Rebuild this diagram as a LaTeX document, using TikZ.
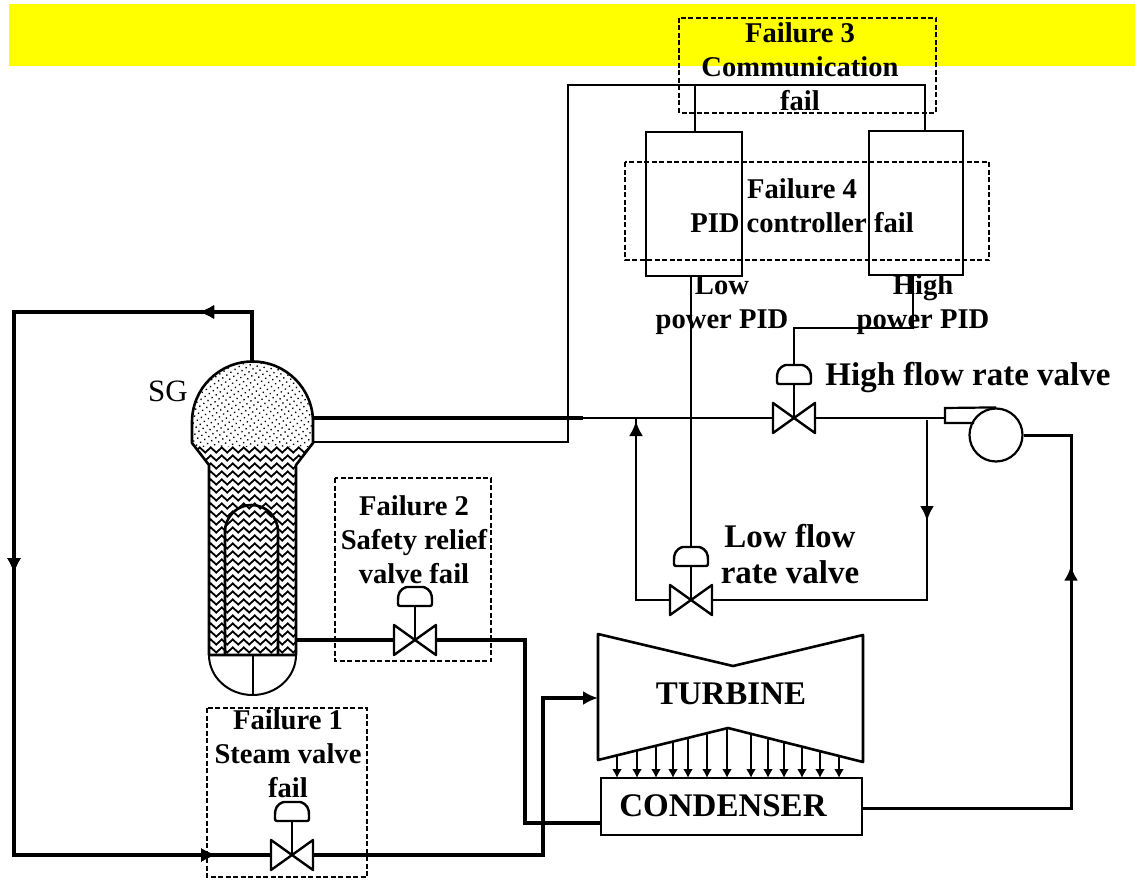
\documentclass[tikz,border=0pt]{standalone}
\usepackage{fontspec}
\setmainfont{Liberation Serif}
\usetikzlibrary{calc,arrows.meta,patterns.meta,decorations.pathmorphing,decorations.markings}
\definecolor{bandyellow}{RGB}{255,255,0}

\tikzset{
    thickpipe/.style={line width=3.4pt},
    thinpipe/.style={line width=1.8pt},
    failbox/.style={draw, dashed, line width=1.5pt, dash pattern=on 5pt off 2.5pt},
    pidbox/.style={draw, line width=2.8pt, minimum width=#1, minimum height=144pt, inner sep=0pt},
    failtext/.style={align=center, inner sep=0pt, font=\fontsize{28.6}{34}\selectfont\bfseries},
    bigtext/.style={align=center, inner sep=0pt, font=\fontsize{33}{36}\selectfont\bfseries},
    flow at/.style={postaction={decorate}, decoration={markings,
        mark=at position #1 with {\arrow{Latex[length=15pt,width=14pt]}}}},
    pics/valve/.style={code={
        \draw[line width=2.4pt, line join=round] (-21,-15) -- (21,15) -- (21,-15) -- (-21,15) -- cycle;
        \draw[line width=2.4pt] (0,0) -- (0,-34);
        \draw[line width=2.4pt, rounded corners=2pt] (-17,-34) -- (17,-34) -- (17,-42)
            .. controls (16,-50) and (10,-53) .. (6,-53) -- (-6,-53)
            .. controls (-10,-53) and (-16,-50) .. (-17,-42) -- cycle;
        \coordinate (-top) at (0,-53);
        \coordinate (-in) at (-21,0);
        \coordinate (-out) at (21,0);
    }}
}

\begin{document}
\begin{tikzpicture}[x=1pt, y=-1pt]
        \useasboundingbox (0,0) rectangle (1135,888);
        \fill[white] (0,0) rectangle (1135,888);
        \fill[bandyellow] (9,4) rectangle (1135,66);

        % steam generator
        \begin{scope}
            \clip (192,422) arc (180:360:60.5) -- (313,443) -- (296,465) -- (296,655)
                -- (209,655) -- (209,465) -- (192,443) -- cycle;
            \fill[pattern={Dots[angle=35, distance=5pt, radius=.95pt]}] (190,360) rectangle (315,450);
            \fill[white] (190,447) rectangle (315,656);
            \foreach \y in {450,458,...,657}
                \draw[line width=1.8pt, decorate, decoration={zigzag, amplitude=2.6pt, segment length=11pt}]
                    (186,\y) -- (320,\y);
        \end{scope}
        \draw[line width=2.6pt, line join=round] (192,422) arc (180:360:60.5) -- (313,443) -- (296,465) -- (296,655)
            -- (209,655) -- (209,465) -- (192,443) -- cycle;
        \draw[line width=2.6pt] (225,655) -- (225,531.5) arc (180:360:26.5) -- (278,655);
        \draw[line width=2pt] (209,655) arc (180:0:43.5 and 40);
        \draw[line width=2pt] (253,655) -- (253,695);
        \coordinate (sgtop) at (252,362);
        \coordinate (sgsteam) at (313,418);
        \coordinate (sgsense) at (313,442);
        \coordinate (sgdrain) at (296,640);
        \node [font=\fontsize{31}{34}\selectfont, inner sep=0pt] (sglabel) at (168,391) {SG};

        % valves
        \pic (hv) at (794,418) {valve};
        \pic (lv) at (691,600) {valve};
        \pic (rv) at (415,640) {valve};
        \pic (sv) at (292,855) {valve};

        % controllers
        \node [pidbox=96pt] (lowpid) at (694,204) {};
        \node [pidbox=94pt] (highpid) at (916,203) {};

        % pump
        \node [draw, circle, line width=2.2pt, minimum size=53pt, inner sep=0pt] (pump) at (996,435) {};
        \draw[line width=2.2pt] (pump.north) -- (945,408) -- (945,423) -- (974,423);
        \coordinate (pumpin) at (945,418);

        % turbine and condenser
        \draw[line width=2.6pt, line join=round] (598,634) -- (733,666) -- (863,635) -- (863,762)
            -- (728,728) -- (598,760) -- cycle;
        \node [draw, line width=2.8pt, minimum width=261pt, minimum height=57pt, inner sep=0pt]
            (condenser) at (731.5,806.5) {};
        \coordinate (turbinein) at (598,698);
        \foreach \x/\y in {617/755,637/750,656/746,673/742,688/738,707/733,727/728,
                751/734,768/738,784/742,802/747,820/751,839/756}
            \draw[line width=2pt, -{Latex[length=9pt,width=10pt]}] (\x,\y) -- (\x,778);

        % corner points of the pipes
        \coordinate (steamend) at (583,418);
        \coordinate (buscorner) at (568,85);
        \coordinate (lowtap) at (695,85);
        \coordinate (hightap) at (925,85);
        \coordinate (bypassin) at (636,418);
        \coordinate (bypassout) at (927,420);
        \coordinate (highout) at (913,275);

        % thick pipes
        \draw[thickpipe, flow at=103pt, flow at=549pt, flow at=1033pt]
            (sgtop) -- (252,312) -- (14,312) -- (14,855) -- (sv-in);
        \draw[thickpipe, -{Latex[length=15pt,width=14pt]}]
            (sv-out) -- (543,855) -- (543,698) -- (turbinein);
        \draw[thickpipe] (sgsteam) -- (steamend);
        \draw[thickpipe] (sgdrain) -- (rv-in);
        \draw[thickpipe] (rv-out) -- (525,640) -- (525,823) -- (601,823);
        \draw[line width=3pt, flow at=450pt] (condenser.east |- 0,808) -- (1071,808) -- (1071,435) -- (pump.east);

        % thin pipes
        \draw[thinpipe] (sgsense) -- (568,442) -- (buscorner) -- (hightap) -- (925,130);
        \draw[thinpipe] (lowtap) -- (695,132);
        \draw[line width=2.2pt] (steamend) -- (hv-in);
        \draw[line width=2.2pt] (hv-out) -- (pumpin);
        \draw[thinpipe] (lv-top |- lowpid.south) -- (lv-top);
        \draw[thinpipe] (highout) -- (913,328) -- (794,328) -- (hv-top);
        \draw[line width=2.6pt, flow at=213pt] (lv-in) -- (636,600) -- (bypassin);
        \draw[line width=2.6pt, flow at=101pt] (bypassout) -- (927,600) -- (lv-out);

        % failure boxes
        \draw[failbox] (679,18) rectangle (936,113);
        \draw[failbox] (625,162) rectangle (989,260);
        \draw[failbox] (335,478) rectangle (491,661);
        \draw[failbox] (207,708) rectangle (367,877);

        % labels
        \node [failtext] (failthree) at (800,67) {Failure 3\\Communication\\fail};
        \node [failtext] (failfour) at (802,206) {Failure 4\\PID controller fail};
        \node [failtext] (failtwo) at (414,540) {Failure 2\\Safety relief\\valve fail};
        \node [failtext] (failone) at (288,754) {Failure 1\\Steam valve\\fail};
        \node [failtext] (lowlabel) at (722,305) {Low\\power PID};
        \node [failtext] (highlabel) at (923,305) {High\\power PID};
        \node [bigtext] (hvlabel) at (968,378) {High flow rate valve};
        \node [bigtext] (lvlabel) at (790,554) {Low flow\\rate valve};
        \node [font=\fontsize{33}{36}\selectfont\bfseries, inner sep=0pt] (turbinelabel) at (731,694) {TURBINE};
        \node [font=\fontsize{33}{36}\selectfont\bfseries, inner sep=0pt] (condenserlabel) at (723,806) {CONDENSER};
    \end{tikzpicture}
\end{document}
